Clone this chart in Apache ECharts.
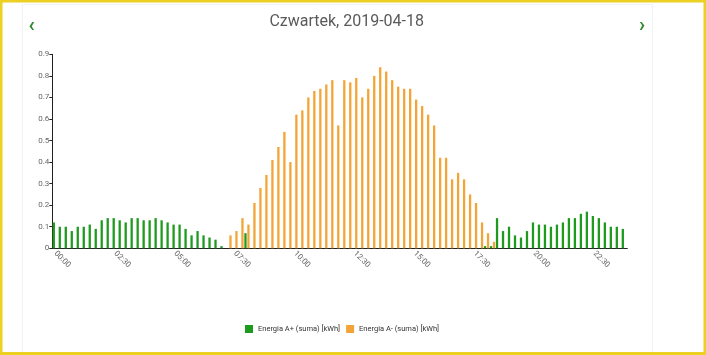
<!DOCTYPE html>
<html>
<head>
<meta charset="utf-8">
<script src="https://cdn.jsdelivr.net/npm/echarts@6.0.0/dist/echarts.min.js"></script>
<style>
html,body{margin:0;padding:0;background:#fff;}
#chart{width:706px;height:355px;}
</style>
</head>
<body>
<div id="chart"></div>
<script>
const titleText = 'Czwartek, 2019-04-18';
const seriesNames = ['Energia A+ (suma) [kWh]', 'Energia A- (suma) [kWh]'];
const categories = [
'00:00','00:15','00:30','00:45','01:00','01:15','01:30','01:45','02:00','02:15',
'02:30','02:45','03:00','03:15','03:30','03:45','04:00','04:15','04:30','04:45',
'05:00','05:15','05:30','05:45','06:00','06:15','06:30','06:45','07:00','07:15',
'07:30','07:45','08:00','08:15','08:30','08:45','09:00','09:15','09:30','09:45',
'10:00','10:15','10:30','10:45','11:00','11:15','11:30','11:45','12:00','12:15',
'12:30','12:45','13:00','13:15','13:30','13:45','14:00','14:15','14:30','14:45',
'15:00','15:15','15:30','15:45','16:00','16:15','16:30','16:45','17:00','17:15',
'17:30','17:45','18:00','18:15','18:30','18:45','19:00','19:15','19:30','19:45',
'20:00','20:15','20:30','20:45','21:00','21:15','21:30','21:45','22:00','22:15',
'22:30','22:45','23:00','23:15','23:30','23:45'];
const energyImport = [
0.12,0.10,0.10,0.08,0.10,0.10,0.11,0.09,0.13,0.14,
0.14,0.13,0.12,0.14,0.14,0.13,0.13,0.14,0.13,0.12,
0.11,0.11,0.09,0.06,0.08,0.06,0.05,0.04,0.01,0,
0,0,0.07,0,0,0,0,0,0,0,
0,0,0,0,0,0,0,0,0,0,
0,0,0,0,0,0,0,0,0,0,
0,0,0,0,0,0,0,0,0,0,
0,0,0.01,0.01,0.14,0.08,0.10,0.06,0.05,0.08,
0.12,0.11,0.11,0.10,0.11,0.12,0.14,0.14,0.16,0.17,
0.15,0.14,0.12,0.10,0.10,0.09];
const energyExport = [
0,0,0,0,0,0,0,0,0,0,
0,0,0,0,0,0,0,0,0,0,
0,0,0,0,0,0,0,0,0,0.06,
0.08,0.14,0.11,0.21,0.28,0.34,0.41,0.47,0.54,0.40,
0.62,0.64,0.70,0.73,0.74,0.76,0.78,0.57,0.78,0.77,
0.79,0.70,0.74,0.80,0.84,0.82,0.78,0.75,0.74,0.74,
0.69,0.66,0.62,0.57,0.42,0.42,0.32,0.35,0.32,0.25,
0.21,0.12,0.07,0.03,0,0,0,0,0,0,
0,0,0,0,0,0,0,0,0,0,
0,0,0,0,0,0];

const FONT = "Roboto,'Noto Sans',sans-serif";
const GREEN = '#1e9a1e';
const ORANGE = '#f3a437';
const YELLOW = '#ecd022';

const chart = echarts.init(document.getElementById('chart'), null, {renderer:'canvas'});
chart.setOption({
  animation: false,
  textStyle: {fontFamily: FONT},
  grid: {left: 52.3, right: 78.7, top: 54.3, bottom: 106.7, containLabel: false},
  legend: {
    left: 240, top: 320, itemWidth: 8, itemHeight: 8, itemGap: 6, icon: 'rect',
    textStyle: {fontFamily: FONT, fontSize: 7.5, color: '#333'},
    data: seriesNames
  },
  xAxis: {
    type: 'category', data: categories, boundaryGap: true,
    axisLine: {lineStyle: {color: '#222', width: 1}},
    axisTick: {interval: 0, length: 4, lineStyle: {color: '#222'}},
    axisLabel: {interval: 9, rotate: -45, fontSize: 8, color: '#666', margin: 4, fontFamily: FONT},
    splitLine: {show: false}
  },
  yAxis: {
    type: 'value', min: 0, max: 0.9, interval: 0.1,
    axisLine: {show: true, lineStyle: {color: '#222'}},
    axisTick: {show: true, length: 3, lineStyle: {color: '#222'}},
    axisLabel: {fontSize: 8, color: '#666', margin: 3, fontFamily: FONT,
      formatter: v => String(+v.toFixed(1))},
    splitLine: {show: false}
  },
  series: [
    {name: seriesNames[0], type: 'bar', data: energyImport, itemStyle: {color: GREEN},
     barCategoryGap: '12%', barGap: '30%'},
    {name: seriesNames[1], type: 'bar', data: energyExport, itemStyle: {color: ORANGE},
     barCategoryGap: '12%', barGap: '30%'}
  ],
  graphic: [
    {type: 'rect', silent: true, shape: {x: 22.5, y: 4.5, width: 630, height: 360},
     style: {fill: 'none', stroke: '#f2f2f2', lineWidth: 1}},
    {type: 'rect', silent: true, shape: {x: 0, y: 0, width: 706, height: 2.5}, style: {fill: YELLOW}},
    {type: 'rect', silent: true, shape: {x: 0, y: 0, width: 2.5, height: 355}, style: {fill: YELLOW}},
    {type: 'rect', silent: true, shape: {x: 703.5, y: 0, width: 2.5, height: 355}, style: {fill: YELLOW}},
    {type: 'rect', silent: true, shape: {x: 0, y: 352, width: 706, height: 3}, style: {fill: YELLOW}},
    {type: 'text', silent: true, x: 346.7, y: 22,
     style: {text: titleText, fill: '#5a5a5a', font: '16px ' + FONT, align: 'center', verticalAlign: 'middle'}},
    {type: 'text', silent: true, x: 31.7, y: 26,
     style: {text: '\u2039', fill: '#2e8b2e', font: 'bold 20px ' + FONT, align: 'center', verticalAlign: 'middle'}},
    {type: 'text', silent: true, x: 642, y: 26,
     style: {text: '\u203A', fill: '#2e8b2e', font: 'bold 20px ' + FONT, align: 'center', verticalAlign: 'middle'}}
  ]
});
</script>
</body>
</html>
